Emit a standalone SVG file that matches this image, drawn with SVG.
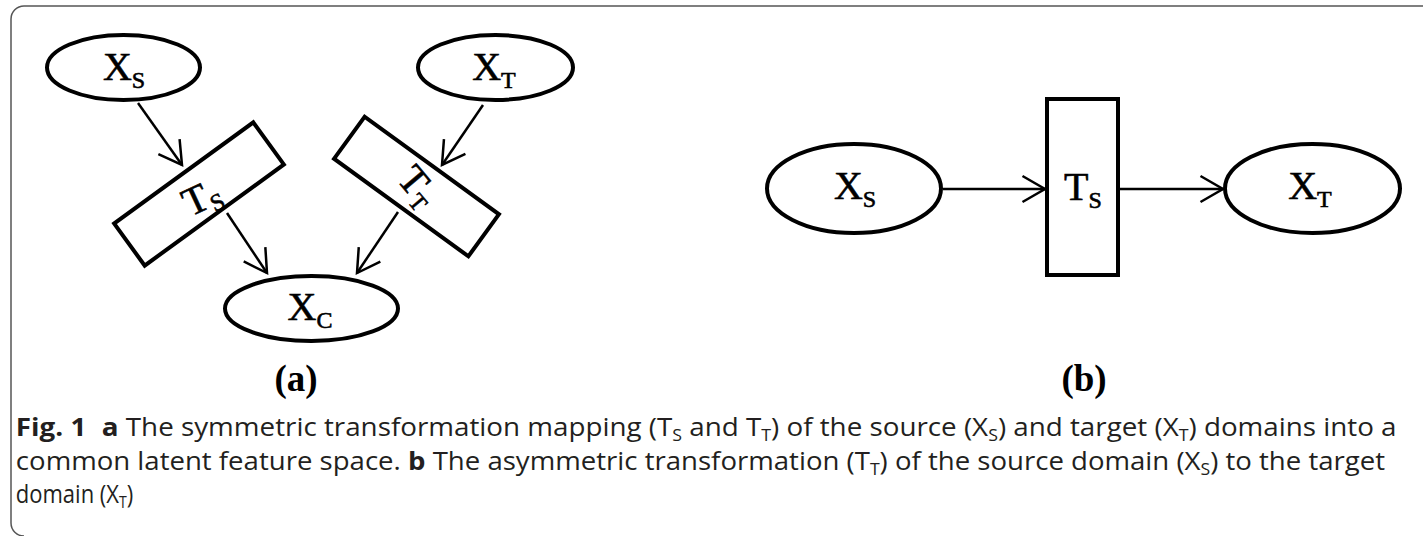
<svg xmlns="http://www.w3.org/2000/svg" width="1423" height="536" viewBox="0 0 1423 536">
<defs>
<style>
.node{fill:#fff;stroke:#000;stroke-width:4}
.edge{fill:none;stroke:#000;stroke-width:2.5}
.lbl{font-family:"Liberation Serif","Times New Roman",serif;font-size:40px;fill:#000;stroke:#000;stroke-width:0.6;text-anchor:middle}
.sub{font-size:24px}
.pl{font-family:"Liberation Serif","Times New Roman",serif;font-size:37px;font-weight:bold;fill:#000;text-anchor:middle}
.cap{font-family:"Open Sans","Noto Sans",sans-serif;font-size:25px;fill:#231f20}
.capsub{font-size:16px}
.b{font-weight:bold}
</style>
<marker id="ah" markerUnits="userSpaceOnUse" markerWidth="40" markerHeight="40" viewBox="-30 -20 40 40" refX="0" refY="0" orient="auto">
<path d="M-22.5,-13 L0,0 L-22.5,13" fill="none" stroke="#000" stroke-width="2.5"/>
</marker>
</defs>
<rect width="1423" height="536" fill="#fff"/>
<path d="M1423,6 H24 A13,13 0 0 0 11,19 V523 A13,13 0 0 0 24,536" fill="none" stroke="#555" stroke-width="1.5"/>

<g id="edges">
<line class="edge" x1="138" y1="103" x2="182" y2="165" marker-end="url(#ah)"/>
<line class="edge" x1="227" y1="213" x2="267" y2="273" marker-end="url(#ah)"/>
<line class="edge" x1="483" y1="105" x2="442" y2="165" marker-end="url(#ah)"/>
<line class="edge" x1="398" y1="212" x2="357" y2="273" marker-end="url(#ah)"/>
<line class="edge" x1="943" y1="189" x2="1045" y2="189" marker-end="url(#ah)"/>
<line class="edge" x1="1120" y1="189" x2="1223" y2="189" marker-end="url(#ah)"/>
</g>

<g id="a-xs">
<ellipse class="node" cx="123.5" cy="67.5" rx="76.5" ry="32.5"/>
<text class="lbl" x="124" y="80">X<tspan class="sub" dy="8">S</tspan></text>
</g>
<g id="a-xt">
<ellipse class="node" cx="495.5" cy="67.5" rx="77.5" ry="32.5"/>
<text class="lbl" x="494" y="80">X<tspan class="sub" dy="8">T</tspan></text>
</g>
<g id="a-ts" transform="translate(199,194) rotate(-36)">
<rect class="node" x="-86" y="-26" width="172" height="52"/>
</g>
<g id="a-ts-label" transform="translate(203,200) rotate(-25)">
<text class="lbl" x="0" y="10">T<tspan class="sub" dy="6">S</tspan></text>
</g>
<g id="a-tt" transform="translate(416.5,186.5) rotate(36)">
<rect class="node" x="-83" y="-26" width="166" height="52"/>
</g>
<g id="a-tt-label" transform="translate(416,188) rotate(50)">
<text class="lbl" x="0" y="10">T<tspan class="sub" dy="6">T</tspan></text>
</g>
<g id="a-xc">
<ellipse class="node" cx="311.5" cy="308.5" rx="86.5" ry="32.5"/>
<text class="lbl" x="310" y="320">X<tspan class="sub" dy="8">C</tspan></text>
</g>
<text class="pl" x="296" y="391">(a)</text>

<g id="b-xs">
<ellipse class="node" cx="854" cy="188.5" rx="87" ry="44.5"/>
<text class="lbl" x="855" y="199">X<tspan class="sub" dy="8">S</tspan></text>
</g>
<g id="b-ts">
<rect class="node" x="1047" y="99" width="71" height="176"/>
<text class="lbl" x="1083" y="200">T<tspan class="sub" dy="8">S</tspan></text>
</g>
<g id="b-xt">
<ellipse class="node" cx="1312.5" cy="188.5" rx="87.5" ry="44.5"/>
<text class="lbl" x="1310" y="199">X<tspan class="sub" dy="8">T</tspan></text>
</g>
<text class="pl" x="1084" y="391">(b)</text>

<g id="caption" transform="scale(0.88,1)">
<text class="cap" x="18" y="436" textLength="1569" lengthAdjust="spacingAndGlyphs"><tspan class="b">Fig. 1</tspan><tspan class="b" dx="14">a</tspan> The symmetric transformation mapping (T<tspan class="capsub" dy="5">S</tspan><tspan dy="-5"> and T</tspan><tspan class="capsub" dy="5">T</tspan><tspan dy="-5">) of the source (X</tspan><tspan class="capsub" dy="5">S</tspan><tspan dy="-5">) and target (X</tspan><tspan class="capsub" dy="5">T</tspan><tspan dy="-5">) domains into a</tspan></text>
<text class="cap" x="18" y="470" textLength="1556" lengthAdjust="spacingAndGlyphs">common latent feature space. <tspan class="b">b</tspan> The asymmetric transformation (T<tspan class="capsub" dy="5">T</tspan><tspan dy="-5">) of the source domain (X</tspan><tspan class="capsub" dy="5">S</tspan><tspan dy="-5">) to the target</tspan></text>
<text class="cap" x="18" y="503">domain (X<tspan class="capsub" dy="5">T</tspan><tspan dy="-5">)</tspan></text>
</g>
</svg>
